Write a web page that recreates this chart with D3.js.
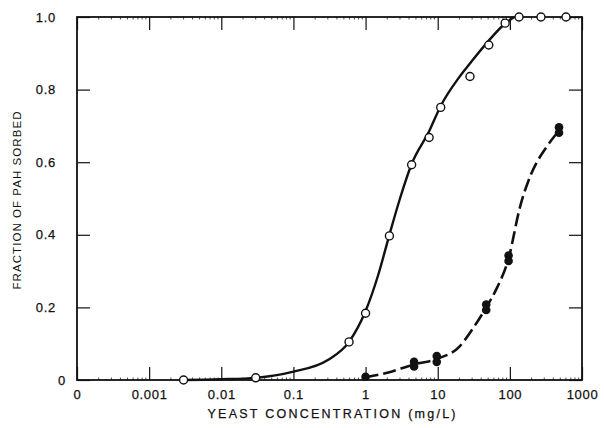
<!DOCTYPE html>
<html>
<head>
<meta charset="utf-8">
<script src="https://cdn.jsdelivr.net/npm/d3@7"></script>
<style>
  html, body { margin: 0; padding: 0; background: #fff; }
  svg { display: block; }
  text { font-family: "Liberation Sans", Arial, Helvetica, sans-serif; fill: #111; }
</style>
</head>
<body>
<svg id="chart" width="604" height="428"></svg>
<script>
// Yeast concentration (mg/L) and fraction of PAH sorbed — open symbols
const openX = [0.003, 0.03, 0.59, 1.0, 2.14, 4.35, 7.6, 11, 28, 51, 86, 134, 270, 600];
const openY = [0.0, 0.006, 0.105, 0.184, 0.397, 0.593, 0.668, 0.751, 0.836, 0.923, 0.983, 1.0, 1.0, 1.0];

// Fitted curve through the open symbols
const openCurveX = [0.003, 0.01, 0.03, 0.1, 0.3, 0.59, 1.0, 1.5, 2.14, 3.0, 4.35, 7.6, 11, 20, 28, 51, 86, 115];
const openCurveY = [0.0, 0.002, 0.006, 0.023, 0.055, 0.105, 0.19, 0.29, 0.40, 0.50, 0.595, 0.685, 0.755, 0.835, 0.872, 0.935, 0.982, 1.0];

// Filled symbols (duplicate measurements)
const filledX = [1.0, 4.7, 4.7, 9.7, 9.7, 47, 47, 96, 96, 480, 480];
const filledY = [0.009, 0.050, 0.037, 0.066, 0.050, 0.208, 0.193, 0.343, 0.328, 0.696, 0.681];

// Fitted curve through the filled symbols
const filledCurveX = [1.0, 2.0, 4.7, 9.7, 20, 31, 47, 66, 96, 138, 198, 320, 457];
const filledCurveY = [0.008, 0.02, 0.043, 0.058, 0.092, 0.143, 0.20, 0.253, 0.335, 0.476, 0.568, 0.641, 0.682];

// Axis ticks
const xTicks = [0.0001, 0.001, 0.01, 0.1, 1, 10, 100, 1000];
const xTickLabels = ["0", "0.001", "0.01", "0.1", "1", "10", "100", "1000"];
const yTicks = [0, 0.2, 0.4, 0.6, 0.8, 1.0];
const yTickLabels = ["0", "0.2", "0.4", "0.6", "0.8", "1.0"];

const svg = d3.select("#chart");
const pL = 77, pR = 582, pT = 17, pB = 380;

const x = d3.scaleLog().domain([0.0001, 1000]).range([pL, pR]);
const y = d3.scaleLinear().domain([0, 1]).range([pB, pT]);

// Minor ticks along the log axis
const minor = [];
for (let e = -4; e < 3; e++) for (let m = 2; m <= 9; m++) minor.push(m * Math.pow(10, e));
const minorG = svg.append("g").attr("stroke", "#222").attr("stroke-width", 0.8);
minorG.selectAll("line.b").data(minor).join("line").attr("class", "b")
  .attr("x1", d => x(d)).attr("x2", d => x(d)).attr("y1", pB).attr("y2", pB - 2.5);
minorG.selectAll("line.t").data(minor).join("line").attr("class", "t")
  .attr("x1", d => x(d)).attr("x2", d => x(d)).attr("y1", pT).attr("y2", pT + 2.5);

// Axes with inward ticks
const fmtX = d => xTickLabels[xTicks.indexOf(d)];
const fmtY = d => yTickLabels[yTicks.indexOf(d)];

const gx = svg.append("g").attr("transform", `translate(0,${pB})`)
  .call(d3.axisBottom(x).tickValues(xTicks).tickFormat(fmtX).tickSize(-13).tickSizeOuter(0).tickPadding(10));
const gxt = svg.append("g").attr("transform", `translate(0,${pT})`)
  .call(d3.axisTop(x).tickValues(xTicks).tickFormat("").tickSize(-13).tickSizeOuter(0));
const gy = svg.append("g").attr("transform", `translate(${pL},0)`)
  .call(d3.axisLeft(y).tickValues(yTicks).tickFormat(fmtY).tickSize(-13).tickSizeOuter(0).tickPadding(21));
const gyr = svg.append("g").attr("transform", `translate(${pR},0)`)
  .call(d3.axisRight(y).tickValues(yTicks).tickFormat("").tickSize(-13).tickSizeOuter(0));

[gx, gxt, gy, gyr].forEach(g => {
  g.select(".domain").remove();
  g.selectAll(".tick line").attr("stroke", "#111").attr("stroke-width", 1.2);
  g.selectAll("text").attr("font-size", 13).attr("letter-spacing", 0.7)
    .style("fill", "#111").style("stroke", "#111").style("stroke-width", 0.25);
});
gy.selectAll(".tick").filter(d => d === 0).select("text").attr("x", -11);

// Frame
svg.append("rect")
  .attr("x", pL).attr("y", pT).attr("width", pR - pL).attr("height", pB - pT)
  .attr("fill", "none").attr("stroke", "#111").attr("stroke-width", 1.8);

// Curves
const line = d3.line().x(d => x(d[0])).y(d => y(d[1])).curve(d3.curveMonotoneX);

svg.append("path")
  .datum(d3.zip(openCurveX, openCurveY))
  .attr("d", line).attr("fill", "none").attr("stroke", "#111").attr("stroke-width", 2.4);

svg.append("path")
  .datum(d3.zip(filledCurveX, filledCurveY))
  .attr("d", line).attr("fill", "none").attr("stroke", "#111").attr("stroke-width", 2.6)
  .attr("stroke-dasharray", "13,5");

// Symbols
svg.append("g").selectAll("circle").data(d3.zip(openX, openY)).join("circle")
  .attr("cx", d => x(d[0])).attr("cy", d => y(d[1])).attr("r", 4)
  .attr("fill", "#fff").attr("stroke", "#111").attr("stroke-width", 1.4);

svg.append("g").selectAll("circle").data(d3.zip(filledX, filledY)).join("circle")
  .attr("cx", d => x(d[0])).attr("cy", d => y(d[1])).attr("r", 4.3)
  .attr("fill", "#111");

// Axis titles
svg.append("text")
  .attr("x", (pL + pR) / 2 + 2).attr("y", 418)
  .attr("text-anchor", "middle").attr("font-size", 12.5)
  .style("stroke", "#111").style("stroke-width", 0.25)
  .attr("textLength", 248).attr("lengthAdjust", "spacing")
  .text("YEAST CONCENTRATION (mg/L)");

svg.append("text")
  .attr("transform", `translate(21,${(pT + pB) / 2 + 2}) rotate(-90)`)
  .attr("text-anchor", "middle").attr("font-size", 11.5)
  .attr("textLength", 178).attr("lengthAdjust", "spacing")
  .text("FRACTION OF PAH SORBED");
</script>
</body>
</html>
